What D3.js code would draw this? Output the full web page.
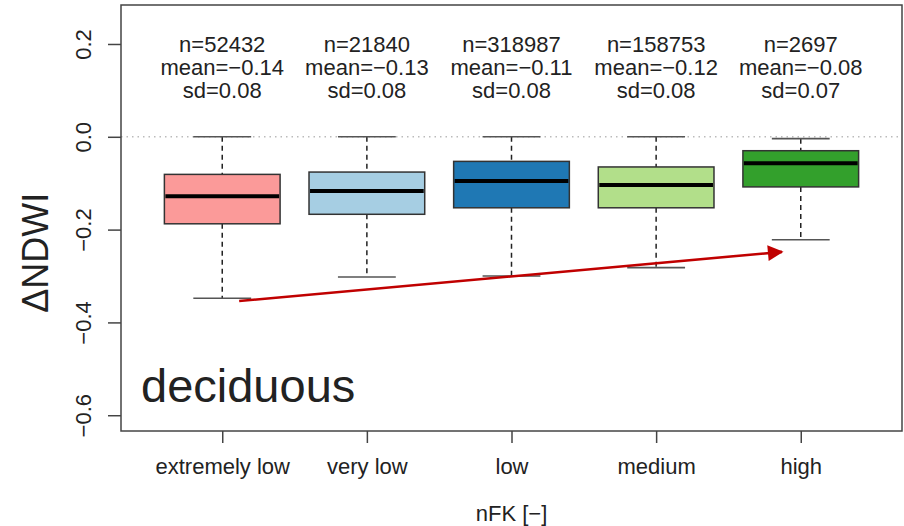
<!DOCTYPE html>
<html>
<head>
<meta charset="utf-8">
<script src="https://cdn.jsdelivr.net/npm/d3@7"></script>
<style>
  body { margin: 0; background: #fff; }
  text { font-family: "Liberation Sans", Arial, sans-serif; fill: #222; }
</style>
</head>
<body>
<div class="chart"></div>
<script>

// DATA ------------------------------
const categories = ["extremely low", "very low", "low", "medium", "high"];
const colors = ["#FB9A99", "#A6CEE3", "#1F78B4", "#B2DF8A", "#33A02C"];
const whiskerHigh = [0.0, 0.0, 0.0, 0.0, -0.004];
const q3 = [-0.081, -0.076, -0.053, -0.065, -0.030];
const medians = [-0.128, -0.117, -0.095, -0.104, -0.057];
const q1 = [-0.1875, -0.167, -0.153, -0.153, -0.108];
const whiskerLow = [-0.348, -0.302, -0.300, -0.282, -0.222];
const nLabels = ["n=52432", "n=21840", "n=318987", "n=158753", "n=2697"];
const meanLabels = ["mean=\u22120.14", "mean=\u22120.13", "mean=\u22120.11", "mean=\u22120.12", "mean=\u22120.08"];
const sdLabels = ["sd=0.08", "sd=0.08", "sd=0.08", "sd=0.08", "sd=0.07"];
const yTicks = [0.2, 0.0, -0.2, -0.4, -0.6];
// trend arrow, in category position / value units
const arrowFrom = [1.117, -0.354];
const arrowTo = [4.87, -0.248];

// CHART INIT ------------------------------
const width = 904, height = 526;
const margin = {top: 5, right: 2, bottom: 95, left: 121};

const svg = d3.select(".chart").append("svg")
  .attr("width", width)
  .attr("height", height);

const xScale = d3.scaleLinear()
  .domain([0.3, 5.7])
  .range([margin.left, width - margin.right]);

const yScale = d3.scaleLinear()
  .domain([-0.634, 0.284])
  .range([height - margin.bottom, margin.top]);

const data = categories.map((c, i) => ({
  cat: c, pos: i + 1, color: colors[i],
  hi: whiskerHigh[i], q3: q3[i], med: medians[i], q1: q1[i], lo: whiskerLow[i],
  n: nLabels[i], mean: meanLabels[i], sd: sdLabels[i]
}));

const boxW = xScale(1.4) - xScale(0.6);
const capW = boxW / 2;

// zero reference line
svg.append("line")
  .attr("x1", xScale.range()[0]).attr("x2", xScale.range()[1])
  .attr("y1", yScale(0)).attr("y2", yScale(0))
  .attr("stroke", "#bbb")
  .attr("stroke-width", 1.5)
  .attr("stroke-dasharray", "1.5,4");

// boxes
const g = svg.selectAll(".box")
  .data(data)
  .enter()
  .append("g")
  .attr("class", "box");

// whiskers
g.append("line")
  .attr("x1", d => xScale(d.pos)).attr("x2", d => xScale(d.pos))
  .attr("y1", d => yScale(d.hi)).attr("y2", d => yScale(d.q3))
  .attr("stroke", "#222").attr("stroke-width", 1.5).attr("stroke-dasharray", "5,4");
g.append("line")
  .attr("x1", d => xScale(d.pos)).attr("x2", d => xScale(d.pos))
  .attr("y1", d => yScale(d.q1)).attr("y2", d => yScale(d.lo))
  .attr("stroke", "#222").attr("stroke-width", 1.5).attr("stroke-dasharray", "5,4");

// caps
g.append("line")
  .attr("x1", d => xScale(d.pos) - capW / 2).attr("x2", d => xScale(d.pos) + capW / 2)
  .attr("y1", d => yScale(d.hi)).attr("y2", d => yScale(d.hi))
  .attr("stroke", "#555").attr("stroke-width", 1.6);
g.append("line")
  .attr("x1", d => xScale(d.pos) - capW / 2).attr("x2", d => xScale(d.pos) + capW / 2)
  .attr("y1", d => yScale(d.lo)).attr("y2", d => yScale(d.lo))
  .attr("stroke", "#555").attr("stroke-width", 1.6);

g.append("rect")
  .attr("x", d => xScale(d.pos) - boxW / 2)
  .attr("y", d => yScale(d.q3))
  .attr("width", boxW)
  .attr("height", d => yScale(d.q1) - yScale(d.q3))
  .attr("fill", d => d.color)
  .attr("stroke", "#333")
  .attr("stroke-width", 1.5);

g.append("line")
  .attr("x1", d => xScale(d.pos) - boxW / 2 + 1).attr("x2", d => xScale(d.pos) + boxW / 2 - 1)
  .attr("y1", d => yScale(d.med)).attr("y2", d => yScale(d.med))
  .attr("stroke", "#000").attr("stroke-width", 4);

// stats text
g.append("text")
  .attr("x", d => xScale(d.pos)).attr("y", yScale(0.2) + 8)
  .attr("text-anchor", "middle").attr("font-size", 22)
  .text(d => d.n);
g.append("text")
  .attr("x", d => xScale(d.pos)).attr("y", yScale(0.2) + 31)
  .attr("text-anchor", "middle").attr("font-size", 22)
  .text(d => d.mean);
g.append("text")
  .attr("x", d => xScale(d.pos)).attr("y", yScale(0.2) + 54)
  .attr("text-anchor", "middle").attr("font-size", 22)
  .text(d => d.sd);

// trend arrow
svg.append("defs").append("marker")
  .attr("id", "head")
  .attr("viewBox", "0 0 10 10")
  .attr("refX", 9).attr("refY", 5)
  .attr("markerWidth", 6.5).attr("markerHeight", 6)
  .attr("orient", "auto")
  .append("path")
  .attr("d", "M0,0 L10,5 L0,10 Z")
  .attr("fill", "#C00000");

svg.append("line")
  .attr("x1", xScale(arrowFrom[0])).attr("y1", yScale(arrowFrom[1]))
  .attr("x2", xScale(arrowTo[0])).attr("y2", yScale(arrowTo[1]))
  .attr("stroke", "#C00000")
  .attr("stroke-width", 2.6)
  .attr("marker-end", "url(#head)");

// frame
svg.append("rect")
  .attr("x", margin.left).attr("y", margin.top)
  .attr("width", width - margin.left - margin.right)
  .attr("height", height - margin.top - margin.bottom)
  .attr("fill", "none")
  .attr("stroke", "#444")
  .attr("stroke-width", 1.5);

// axes
const yAxis = d3.axisLeft(yScale)
  .tickValues(yTicks)
  .tickSize(13)
  .tickPadding(0)
  .tickFormat(d3.format(".1f"));

const yg = svg.append("g")
  .attr("class", "y-axis")
  .attr("transform", `translate(${margin.left},0)`)
  .call(yAxis);
yg.select(".domain").remove();
yg.selectAll(".tick line").attr("stroke", "#444").attr("stroke-width", 1.5);
yg.selectAll(".tick text")
  .attr("font-size", 22)
  .attr("fill", "#222")
  .attr("font-family", "Liberation Sans, Arial, sans-serif")
  .attr("text-anchor", "middle")
  .attr("transform", "translate(-38,0) rotate(-90)")
  .attr("x", 0).attr("dy", "0.35em")
  .text(d => d3.format(".1f")(d).replace("-", "\u2212"));

const xAxis = d3.axisBottom(xScale)
  .tickValues(data.map(d => d.pos))
  .tickSize(12)
  .tickPadding(15)
  .tickFormat((d, i) => categories[i]);

const xg = svg.append("g")
  .attr("class", "x-axis")
  .attr("transform", `translate(0,${height - margin.bottom})`)
  .call(xAxis);
xg.select(".domain").remove();
xg.selectAll(".tick line").attr("stroke", "#444").attr("stroke-width", 1.5);
xg.selectAll(".tick text")
  .attr("font-size", 22)
  .attr("fill", "#222")
  .attr("font-family", "Liberation Sans, Arial, sans-serif");

// titles
svg.append("text")
  .attr("x", xScale(3)).attr("y", 521)
  .attr("text-anchor", "middle")
  .attr("font-size", 22)
  .text("nFK [\u2212]");

svg.append("text")
  .attr("transform", `translate(48,${yScale(-0.25)}) rotate(-90)`)
  .attr("text-anchor", "middle")
  .attr("font-size", 36)
  .attr("fill", "#000")
  .text("\u0394NDWI");

svg.append("text")
  .attr("x", 141).attr("y", 402)
  .attr("font-size", 47)
  .attr("fill", "#000")
  .text("deciduous");

</script>
</body>
</html>
